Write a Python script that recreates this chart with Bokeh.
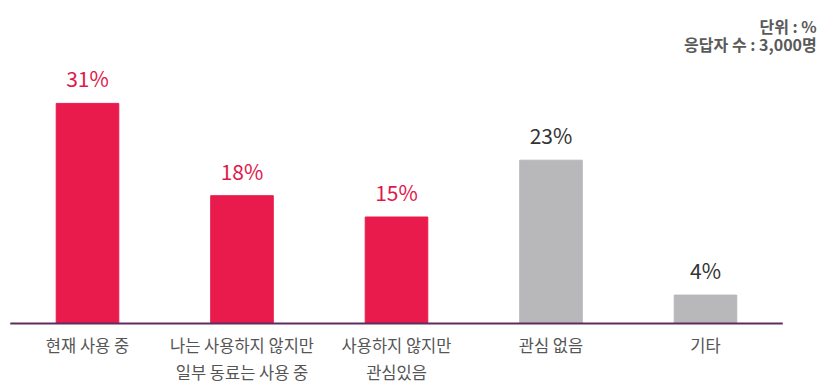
from bokeh.plotting import figure
from bokeh.models import Range1d, ColumnDataSource
from bokeh.core.properties import value
from bokeh.embed import file_html
from bokeh.resources import INLINE

categories = ["현재 사용 중", "나는 사용하지 않지만\n일부 동료는 사용 중", "사용하지 않지만\n관심있음", "관심 없음", "기타"]
values = [31, 18, 15, 23, 4]
labels = ["31%", "18%", "15%", "23%", "4%"]
bar_colors = ["#e91b4c", "#e91b4c", "#e91b4c", "#b8b7ba", "#b8b7ba"]
text_colors = ["#e0194b", "#e0194b", "#e0194b", "#333333", "#333333"]
note_lines = ["단위 : %", "응답자 수 : 3,000명"]

FONT = "Noto Sans CJK KR"
W, H = 827, 389
PX_X = 154.5      # pixels per category
PX_Y = 7.1        # pixels per percent
X0_PX, Y0_PX = 87, 323   # pixel position of first category centre / baseline

n = len(categories)
xs = list(range(n))
src = ColumnDataSource(dict(x=xs, cat=categories, val=values, lab=labels, bc=bar_colors, tc=text_colors))

x_start = -X0_PX / PX_X
x_end = (W - X0_PX) / PX_X
y_start = -(H - Y0_PX) / PX_Y
y_end = Y0_PX / PX_Y

p = figure(x_range=Range1d(x_start, x_end), y_range=Range1d(y_start, y_end),
           width=W, height=H, output_backend="svg", toolbar_location=None,
           x_axis_location=None, y_axis_location=None,
           min_border=0, min_border_left=0, min_border_right=0,
           min_border_top=0, min_border_bottom=0)
p.outline_line_color = None
p.grid.visible = False
p.background_fill_color = "white"
p.border_fill_color = "white"

p.vbar(x="x", top="val", width=0.405, color="bc", source=src)
p.text(x="x", y="val", text="lab", text_color="tc", source=src,
       text_align="center", text_baseline="middle", y_offset=-25,
       text_font=value(FONT), text_font_size="21px")

# baseline (axis line)
p.segment(x0=[-0.5], y0=[0], x1=[n - 0.5], y1=[0], line_color="#5c2d5e", line_width=2)

# category labels
p.text(x="x", y=0, text="cat", source=src, text_align="center", text_baseline="top",
       y_offset=9, text_font=value(FONT), text_font_size="16.5px",
       text_line_height=1.13, text_color="#555555")

# notes top-right
for i, t in enumerate(note_lines):
    p.text(x=[n - 0.5], y=[y_end], text=[t], x_offset=34, y_offset=25 + i * 18,
           text_align="right", text_baseline="middle",
           text_font=value(FONT), text_font_size="16px",
           text_font_style="bold", text_color="#5a5a5a")

open("out.html", "w").write(file_html(p, INLINE))
